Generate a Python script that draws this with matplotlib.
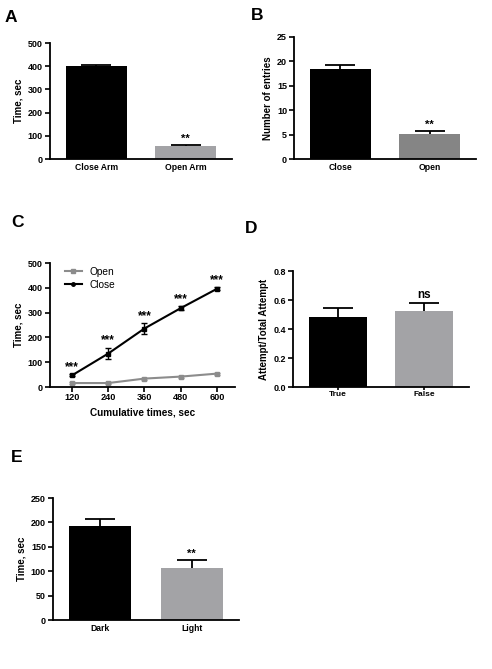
import numpy as np
import matplotlib
matplotlib.use("Agg")
import matplotlib.pyplot as plt
from matplotlib.lines import Line2D

plt.rcParams['font.family'] = ['Liberation Sans', 'DejaVu Sans']
plt.rcParams['font.weight'] = 'bold'

# Panel A
a_cats = ["Close Arm", "Open Arm"]
a_vals = [400, 55]
a_err = [6, 5]
# Panel B
b_cats = ["Close", "Open"]
b_vals = [18.4, 5.05]
b_err = [0.9, 0.65]
# Panel C
c_times = [120, 240, 360, 480, 600]
c_open = [16, 16, 34, 42, 54]
c_open_err = [3, 3, 4, 4, 4]
c_close = [47, 135, 236, 318, 396]
c_close_err = [4, 24, 21, 8, 6]
# Panel D
d_cats = ["True", "False"]
d_vals = [0.485, 0.522]
d_err = [0.062, 0.06]
# Panel E
e_cats = ["Dark", "Light"]
e_vals = [192, 107.5]
e_err = [15, 15]

BLACK = "#000000"
GRAY_L = "#a3a3a6"
GRAY_B = "#858585"
GRAY_C = "#8c8c8c"

fig = plt.figure(figsize=(4.92, 6.69), dpi=100)

def style(ax):
    for s in ["top", "right"]:
        ax.spines[s].set_visible(False)
    for s in ["left", "bottom"]:
        ax.spines[s].set_linewidth(1.3)
    ax.tick_params(axis='both', width=1.2, length=3.5, labelsize=6.5, pad=1.5)
    for lab in ax.get_xticklabels() + ax.get_yticklabels():
        lab.set_fontweight('bold')

def barpanel(rect, cats, vals, errs, colors, ylim, yticks, ylabel, sig, sigsize=8,
             yfmt=None, xlsize=6.2, xticklen=0):
    ax = fig.add_axes(rect)
    x = np.arange(len(cats))
    ax.bar(x, vals, width=0.68, color=colors, zorder=2)
    el = ax.errorbar(x, vals, yerr=[np.zeros(len(vals)), errs], fmt='none',
                     ecolor='black', elinewidth=1.3, capsize=11, capthick=1.3, zorder=3)
    el[1][0].set_visible(False)
    ax.set_xlim(-0.52, 1.52)
    ax.set_ylim(*ylim)
    ax.set_yticks(yticks)
    if yfmt:
        ax.set_yticklabels([yfmt.format(t) for t in yticks])
    ax.set_xticks(x)
    ax.set_xticklabels(cats)
    style(ax)
    ax.tick_params(axis='x', length=xticklen, labelsize=xlsize, pad=3 - xticklen)
    for lab in ax.get_xticklabels():
        lab.set_fontweight('bold')
    ax.set_ylabel(ylabel, fontsize=7, fontweight='bold', labelpad=3)
    ax.text(1, vals[1] + errs[1] + (ylim[1] - ylim[0]) * 0.01, sig, ha='center', va='bottom',
            fontsize=sigsize, fontweight='bold')
    return ax

barpanel([0.1016, 0.7623, 0.370, 0.1734], a_cats, a_vals, a_err, [BLACK, GRAY_L],
         (0, 500), [0, 100, 200, 300, 400, 500], "Time, sec", "**")
barpanel([0.5976, 0.7623, 0.370, 0.1824], b_cats, b_vals, b_err, [BLACK, GRAY_B],
         (0, 25), [0, 5, 10, 15, 20, 25], "Number of entries", "**")
barpanel([0.5955, 0.4215, 0.3577, 0.1734], d_cats, d_vals, d_err, [BLACK, GRAY_L],
         (0, 0.8), [0, 0.2, 0.4, 0.6, 0.8], "Attempt/Total Attempt", "ns",
         sigsize=8.5, yfmt="{:.1f}", xlsize=6, xticklen=2)
barpanel([0.1077, 0.0732, 0.378, 0.1824], e_cats, e_vals, e_err, [BLACK, GRAY_L],
         (0, 250), [0, 50, 100, 150, 200, 250], "Time, sec", "**")

# Panel C
axc = fig.add_axes([0.1016, 0.4215, 0.376, 0.1853])
axc.errorbar(c_times, c_open, yerr=c_open_err, color=GRAY_C, marker='s', markersize=3.5,
             lw=1.5, capsize=2.5, elinewidth=1, zorder=2)
axc.errorbar(c_times, c_close, yerr=c_close_err, color=BLACK, marker='s', markersize=3.5,
             lw=1.5, capsize=2.5, elinewidth=1, zorder=3)
for t, v, e in zip(c_times, c_close, c_close_err):
    axc.text(t, v + e + 6, "***", ha='center', va='bottom', fontsize=8.5, fontweight='bold')
axc.set_xlim(47, 660)
axc.set_ylim(0, 500)
axc.set_xticks(c_times)
axc.set_yticks([0, 100, 200, 300, 400, 500])
style(axc)
axc.tick_params(axis='x', labelsize=6.6, pad=1)
for lab in axc.get_xticklabels():
    lab.set_fontweight('bold')
axc.set_ylabel("Time, sec", fontsize=7, fontweight='bold', labelpad=3)
axc.set_xlabel("Cumulative times, sec", fontsize=7.2, fontweight='bold', labelpad=3.5)
handles = [Line2D([], [], color=GRAY_C, marker='s', markersize=3, lw=1.5),
           Line2D([], [], color=BLACK, marker='o', markersize=2.5, lw=1.5)]
leg = axc.legend(handles, ["Open", "Close"], loc='upper left', frameon=False, fontsize=7.3,
                 handlelength=1.6, borderaxespad=0.2, labelspacing=0.3,
                 bbox_to_anchor=(0.05, 1.02))
for t in leg.get_texts():
    t.set_fontweight('normal')

# Panel letters
for letter, x, y in [("A", 5, 17), ("B", 251, 16), ("C", 11, 222), ("D", 245, 229), ("E", 11, 457)]:
    fig.text(x / 492, 1 - y / 669, letter, fontsize=12.5, fontweight='bold', ha='left', va='center')

fig.savefig("out.png", dpi=100, facecolor='white')
